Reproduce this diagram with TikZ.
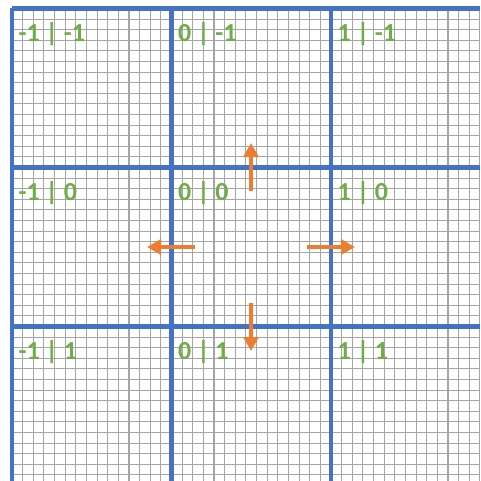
\documentclass[tikz,border=0pt]{standalone}
\usepackage{fontspec}
\setmainfont{Carlito}
\usepackage{xcolor}
\usepackage{tikz}
\usetikzlibrary{arrows.meta}

\definecolor{tileblue}{HTML}{4472C4}
\definecolor{tilegreen}{HTML}{70AD47}
\definecolor{moveorange}{HTML}{ED7D31}

\begin{document}
\begin{tikzpicture}[x=1pt, y=-1pt,
    tilelabel/.style={anchor=base west, inner sep=0pt, text=tilegreen,
      font=\bfseries\fontsize{26}{26}\selectfont},
    move/.style={moveorange, line width=4.5pt, -{Triangle[length=14pt, width=15pt]}}]
  \useasboundingbox (0,0) rectangle (480,481);

  % fine grid
  \foreach \i in {0,...,44} {
    \draw[black!35, line width=1.1pt] (12+\i*10.633,8.5) -- (12+\i*10.633,481);
    \draw[black!35, line width=1.1pt] (12,8.5+\i*10.6) -- (480,8.5+\i*10.6);
  }

  % tile borders
  \foreach \k in {0,1,2} {
    \draw[tileblue, line width=4.2pt] (12+\k*159.5,8.5) -- (12+\k*159.5,481);
    \draw[tileblue, line width=4.2pt] (12,8.5+\k*159) -- (480,8.5+\k*159);
  }

  % tile labels
  \foreach \col in {0,1,2} {
    \foreach \row in {0,1,2} {
      \pgfmathtruncatemacro{\cx}{\col-1}
      \pgfmathtruncatemacro{\cy}{\row-1}
      \node[tilelabel] (tile\col\row) at (12+\col*159.5+6.5,8.5+\row*159+33) {\cx\ | \cy};
    }
  }

  % moves out of the middle tile
  \coordinate (mid) at (251,247);
  \foreach \name/\dx/\dy in {up/0/-1, down/0/1, left/-1/0, right/1/0} {
    \coordinate (\name tail) at (251+56*\dx,247+56*\dy);
    \coordinate (\name tip) at (251+104*\dx,247+104*\dy);
    \draw[move] (\name tail) -- (\name tip);
  }
\end{tikzpicture}
\end{document}
